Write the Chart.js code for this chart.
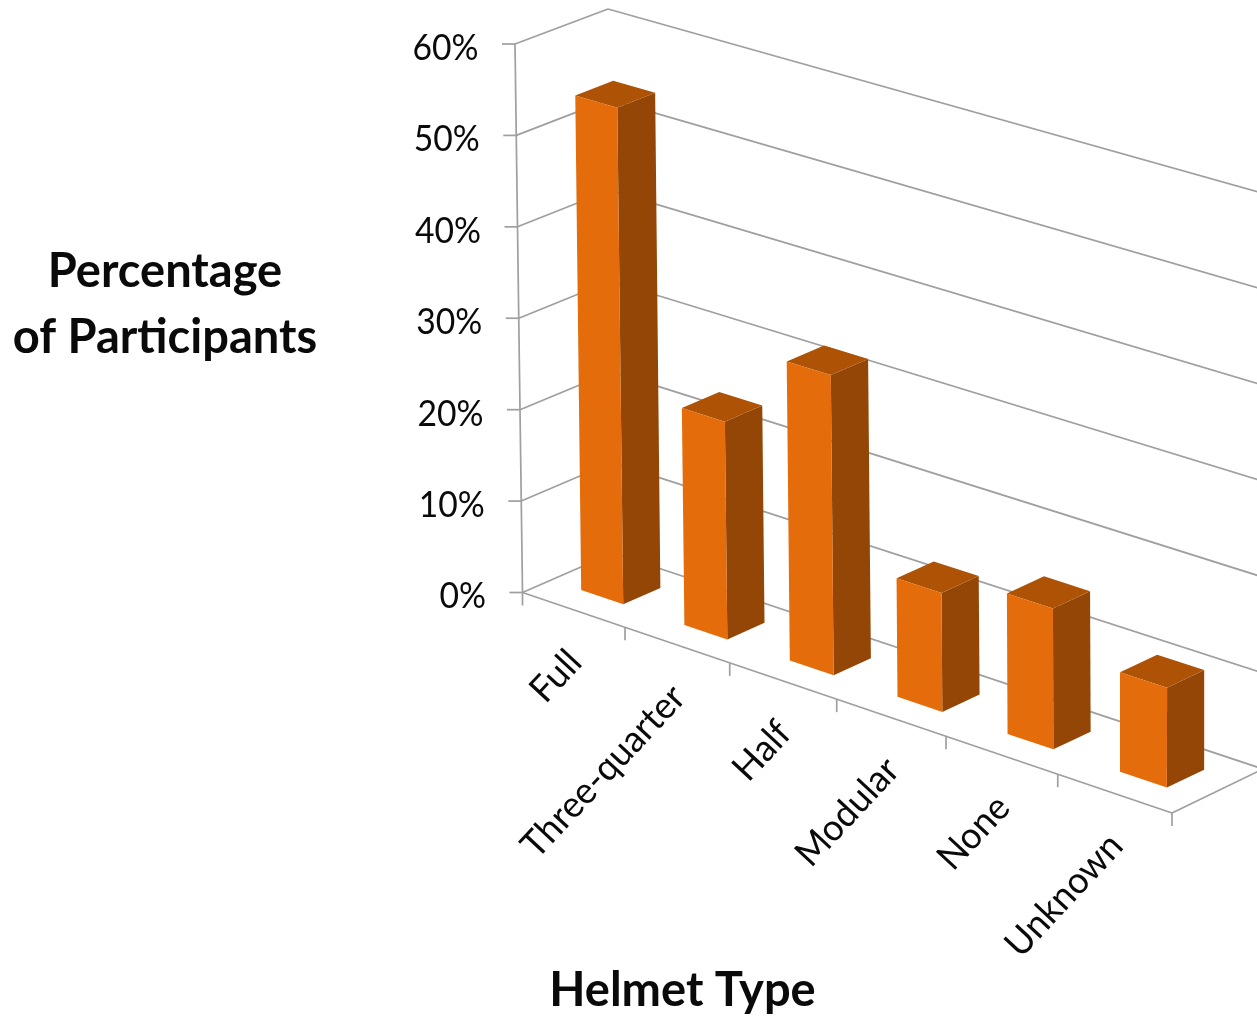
<!DOCTYPE html>
<html>
<head>
<meta charset="utf-8">
<title>Helmet Type</title>
<script src="https://cdn.jsdelivr.net/npm/chart.js@4"></script>
<style>
  html, body { margin: 0; padding: 0; background: #fff; }
  canvas { display: block; }
</style>
</head>
<body>
<canvas id="helmetChart" width="1257" height="1018"></canvas>
<script>
const helmetTypes = ['Full', 'Three-quarter', 'Half', 'Modular', 'None', 'Unknown'];
const participantPct = [54.1, 23.5, 32.1, 12.6, 14.8, 10.4];
const yTitleLines = ['Percentage', 'of Participants'];
const xTitle = 'Helmet Type';

// corners of the 3d box on the page: front-left, front-right, back-right, back-left
const floorQuad = [[522.5, 592.5], [1172, 813], [1263, 769], [613, 553]];
const ceilingQuad = [[515, 44], [1175, 235], [1263, 193.4], [608, 9]];

const depthStart = 0.315;
const depthEnd = 0.725;

const frontColor = '#e46c0a';
const sideColor = '#934606';
const topColor = '#ae5305';
const gridColor = '#9f9f9f';
const textColor = '#0a0a0a';
const tickFont = '37px Lato';
const titleFont = 'bold 48px Lato';

// perspective map from the unit square onto a quad
function squareToQuad(q) {
    const [[x0, y0], [x1, y1], [x2, y2], [x3, y3]] = q;
    const dx1 = x1 - x2, dx2 = x3 - x2, sx = x0 - x1 + x2 - x3;
    const dy1 = y1 - y2, dy2 = y3 - y2, sy = y0 - y1 + y2 - y3;
    const det = dx1 * dy2 - dx2 * dy1;
    const g = (sx * dy2 - dx2 * sy) / det;
    const h = (dx1 * sy - sx * dy1) / det;
    const a = x1 - x0 + g * x1, b = x3 - x0 + h * x3;
    const d = y1 - y0 + g * y1, e = y3 - y0 + h * y3;
    return (u, w) => {
        const n = g * u + h * w + 1;
        return [(a * u + b * w + x0) / n, (d * u + e * w + y0) / n];
    };
}

const floorMap = squareToQuad(floorQuad);
const ceilingMap = squareToQuad(ceilingQuad);

// u: along the categories, v: height 0..1, w: depth 0..1
function project(u, v, w) {
    const a = floorMap(u, w);
    const b = ceilingMap(u, w);
    return [a[0] + (b[0] - a[0]) * v, a[1] + (b[1] - a[1]) * v];
}

function line(ctx, p, q) {
    ctx.beginPath();
    ctx.moveTo(p[0], p[1]);
    ctx.lineTo(q[0], q[1]);
    ctx.stroke();
}

function face(ctx, pts, color) {
    ctx.fillStyle = color;
    ctx.beginPath();
    pts.forEach((p, i) => i ? ctx.lineTo(p[0], p[1]) : ctx.moveTo(p[0], p[1]));
    ctx.closePath();
    ctx.fill();
}

// Lato runs wider than the label font wants, so squeeze it sideways
function squeezedText(ctx, text, x, y, squeeze, angle) {
    ctx.save();
    ctx.translate(x, y);
    if (angle) ctx.rotate(angle);
    ctx.scale(squeeze, 1);
    ctx.fillText(text, 0, 0);
    ctx.restore();
}

// the flat chart area gets folded into the box here, scales do the value maths
const box3d = {
    id: 'box3d',
    beforeDatasetsDraw(chart) {
        const { ctx, chartArea: area, scales } = chart;
        const toU = px => (px - area.left) / area.width;
        const toV = px => (area.bottom - px) / area.height;

        ctx.save();
        ctx.strokeStyle = gridColor;
        ctx.lineWidth = 1.7;

        // walls and value ticks
        ctx.fillStyle = textColor;
        ctx.font = tickFont;
        ctx.textAlign = 'right';
        ctx.textBaseline = 'middle';
        scales.y.ticks.forEach(t => {
            const v = toV(scales.y.getPixelForValue(t.value));
            const front = project(0, v, 0);
            const back = project(0, v, 1);
            line(ctx, [front[0] - 13, front[1]], front);
            line(ctx, front, back);
            line(ctx, back, project(1, v, 1));
            squeezedText(ctx, t.label, front[0] - 36.5, front[1] + 4, 0.91);
        });
        line(ctx, project(0, 0, 0), project(0, 1, 0));

        // floor edges and category ticks
        line(ctx, project(0, 0, 0), project(1, 0, 0));
        line(ctx, project(1, 0, 0), project(1, 0, 1));
        for (let i = 0; i <= helmetTypes.length; i++) {
            const p = project(i / helmetTypes.length, 0, 0);
            line(ctx, p, [p[0], p[1] + 13]);
        }

        // bars
        chart.getDatasetMeta(0).data.forEach(bar => {
            const u0 = toU(bar.x - bar.width / 2);
            const u1 = toU(bar.x + bar.width / 2);
            const v1 = toV(bar.y);
            const v0 = toV(bar.base);
            face(ctx, [project(u1, v0, depthStart), project(u1, v0, depthEnd), project(u1, v1, depthEnd), project(u1, v1, depthStart)], sideColor);
            face(ctx, [project(u0, v1, depthStart), project(u1, v1, depthStart), project(u1, v1, depthEnd), project(u0, v1, depthEnd)], topColor);
            face(ctx, [project(u0, v0, depthStart), project(u1, v0, depthStart), project(u1, v1, depthStart), project(u0, v1, depthStart)], frontColor);
        });

        // category labels, turned to follow the axis
        ctx.fillStyle = textColor;
        helmetTypes.forEach((name, i) => {
            const p = project(toU(scales.x.getPixelForValue(i)), 0, 0);
            squeezedText(ctx, name, p[0] + 1.5, p[1] + 46, 0.97, -47 * Math.PI / 180);
        });

        // axis titles
        ctx.font = titleFont;
        ctx.textAlign = 'center';
        squeezedText(ctx, yTitleLines[0], 165, 271.5, 0.98);
        squeezedText(ctx, yTitleLines[1], 165, 337.5, 0.98);
        squeezedText(ctx, xTitle, 682.5, 991, 0.98);

        ctx.restore();
        return false;
    }
};

new Chart(document.getElementById('helmetChart'), {
    type: 'bar',
    data: {
        labels: helmetTypes,
        datasets: [{
            label: 'Percentage of Participants',
            data: participantPct,
            backgroundColor: frontColor,
            categoryPercentage: 1,
            barPercentage: 0.41
        }]
    },
    options: {
        responsive: false,
        animation: false,
        plugins: {
            legend: { display: false },
            tooltip: { enabled: false }
        },
        scales: {
            x: { display: false },
            y: {
                display: false,
                min: 0,
                max: 60,
                ticks: { stepSize: 10, callback: v => v + '%' }
            }
        }
    },
    plugins: [box3d]
});
</script>
</body>
</html>
